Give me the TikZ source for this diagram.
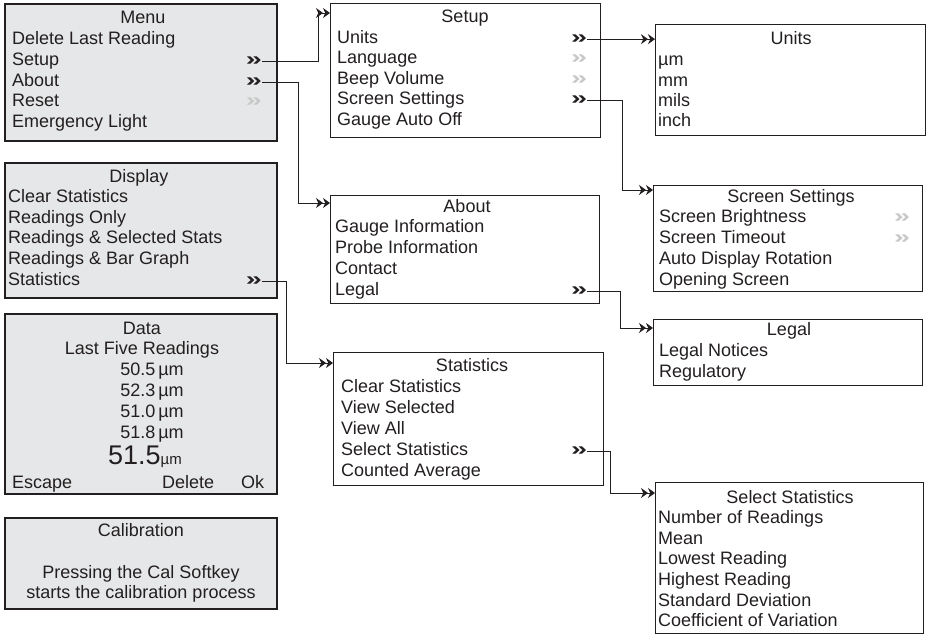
\documentclass[tikz,border=0pt]{standalone}
\usepackage{graphicx}
\usepackage{fontspec}
\setmainfont{Liberation Sans}
\usetikzlibrary{arrows.meta, calc}
\definecolor{ink}{HTML}{231F20}
\definecolor{panel}{HTML}{E6E7E8}
\definecolor{dim}{HTML}{C8C8C8}
\newcommand{\menufont}{\fontsize{18}{21}\selectfont}
\newcommand{\gofont}{\fontsize{18}{21}\selectfont\bfseries}
\newcommand{\go}{\scalebox{1.6}[1.05]{»}}
\tikzset{
  graybox/.style={
    rectangle, draw=ink, fill=panel, line width=1.8pt,
    anchor=north west, inner sep=0pt
  },
  whitebox/.style={graybox, fill=white, line width=1.1pt},
  item/.style={anchor=base west, inner sep=0pt, yshift=-6.5pt, font=\menufont, text=ink},
  title/.style={item, anchor=base},
  more/.style={title, font=\gofont},
  moredim/.style={more, text=dim},
  arrow/.style={-{Stealth[length=7pt,width=10pt]Stealth[length=7pt,width=10pt]}, line width=1pt, draw=ink},
}

\begin{document}
\begin{tikzpicture}[x=1pt, y=-1pt]
  \useasboundingbox (0,0) rectangle (928,635);

  % left column: gray screens
  \node[graybox, minimum width=272pt, minimum height=137pt] (menu) at (4,3) {};
  \node[title] (menuTitle) at (143,17) {Menu};
  \node[item] (mDelete) at (12,38) {Delete Last Reading};
  \node[item] (mSetup) at (12,59) {Setup};
  \node[item] (mAbout) at (12,80) {About};
  \node[item] (mReset) at (12,100) {Reset};
  \node[item] (mLight) at (12,121) {Emergency Light};
  \node[more] (mSetupGo) at (254,59) {\go};
  \node[more] (mAboutGo) at (254,80) {\go};
  \node[moredim] (mResetGo) at (254,100) {\go};

  \node[graybox, minimum width=272pt, minimum height=135pt] (display) at (4,162) {};
  \node[title] (displayTitle) at (139,176) {Display};
  \node[item] (dClear) at (8,196) {Clear Statistics};
  \node[item] (dOnly) at (8,217) {Readings Only};
  \node[item] (dSelected) at (8,237) {Readings \& Selected Stats};
  \node[item] (dBar) at (8,258) {Readings \& Bar Graph};
  \node[item] (dStats) at (8,279) {Statistics};
  \node[more] (dStatsGo) at (254,279) {\go};

  \node[graybox, minimum width=272pt, minimum height=180pt] (data) at (4,313) {};
  \node[title] (dataTitle) at (142,328) {Data};
  \node[title] (dLast) at (142,348) {Last Five Readings};
  \node[title] (dVal1) at (152,369) {50.5\,µm};
  \node[title] (dVal2) at (152,390) {52.3\,µm};
  \node[title] (dVal3) at (152,411) {51.0\,µm};
  \node[title] (dVal4) at (152,432) {51.8\,µm};
  \node[title, yshift=-3pt] (dNow) at (145,455) {{\fontsize{27}{30}\selectfont 51.5}{\fontsize{15}{18}\selectfont µm}};
  \node[item] (dEscape) at (12,482) {Escape};
  \node[item] (dDelete) at (162,482) {Delete};
  \node[item] (dOk) at (241,482) {Ok};

  \node[graybox, minimum width=272pt, minimum height=91pt] (calib) at (4,517) {};
  \node[title] (calibTitle) at (141,530) {Calibration};
  \node[title] (cLine1) at (141,572) {Pressing the Cal Softkey};
  \node[title] (cLine2) at (141,592) {starts the calibration process};

  % middle column
  \node[whitebox, minimum width=270pt, minimum height=134pt] (setup) at (330,3) {};
  \node[title] (setupTitle) at (465,16) {Setup};
  \node[item] (sUnits) at (337,37) {Units};
  \node[item] (sLanguage) at (337,57) {Language};
  \node[item] (sBeep) at (337,78) {Beep Volume};
  \node[item] (sScreen) at (337,98) {Screen Settings};
  \node[item] (sAutoOff) at (337,119) {Gauge Auto Off};
  \node[more] (sUnitsGo) at (579,37) {\go};
  \node[moredim] (sLanguageGo) at (579,57) {\go};
  \node[moredim] (sBeepGo) at (579,78) {\go};
  \node[more] (sScreenGo) at (579,98) {\go};

  \node[whitebox, minimum width=269pt, minimum height=108pt] (about) at (330,195) {};
  \node[title] (aboutTitle) at (467,206) {About};
  \node[item] (aGauge) at (335,226) {Gauge Information};
  \node[item] (aProbe) at (335,247) {Probe Information};
  \node[item] (aContact) at (335,268) {Contact};
  \node[item] (aLegal) at (335,289) {Legal};
  \node[more] (aLegalGo) at (579,289) {\go};

  \node[whitebox, minimum width=270pt, minimum height=133pt] (stats) at (333,352) {};
  \node[title] (statsTitle) at (472,365) {Statistics};
  \node[item] (tClear) at (341,386) {Clear Statistics};
  \node[item] (tSelected) at (341,407) {View Selected};
  \node[item] (tAll) at (341,428) {View All};
  \node[item] (tSel) at (341,449) {Select Statistics};
  \node[item] (tCounted) at (341,470) {Counted Average};
  \node[more] (tSelGo) at (579,449) {\go};

  % right column
  \node[whitebox, minimum width=270pt, minimum height=111pt] (units) at (655,24) {};
  \node[title] (unitsTitle) at (791,38) {Units};
  \node[item] (uMicron) at (658,59) {µm};
  \node[item] (uMm) at (658,80) {mm};
  \node[item] (uMils) at (658,100) {mils};
  \node[item] (uInch) at (658,120) {inch};

  \node[whitebox, minimum width=269pt, minimum height=106pt] (screen) at (653,185) {};
  \node[title] (screenTitle) at (791,196) {Screen Settings};
  \node[item] (rBright) at (659,216) {Screen Brightness};
  \node[item] (rTimeout) at (659,237) {Screen Timeout};
  \node[item] (rRotate) at (659,258) {Auto Display Rotation};
  \node[item] (rOpening) at (659,279) {Opening Screen};
  \node[moredim] (rBrightGo) at (902,216) {\go};
  \node[moredim] (rTimeoutGo) at (902,237) {\go};

  \node[whitebox, minimum width=269pt, minimum height=66pt] (legal) at (653,319) {};
  \node[title] (legalTitle) at (789,329) {Legal};
  \node[item] (lNotices) at (659,350) {Legal Notices};
  \node[item] (lRegulatory) at (659,371) {Regulatory};

  \node[whitebox, minimum width=268pt, minimum height=151pt] (selstats) at (655,482) {};
  \node[title] (selTitle) at (790,497) {Select Statistics};
  \node[item] (eNumber) at (658,517) {Number of Readings};
  \node[item] (eMean) at (658,538) {Mean};
  \node[item] (eLowest) at (658,558) {Lowest Reading};
  \node[item] (eHighest) at (658,579) {Highest Reading};
  \node[item] (eStdDev) at (658,600) {Standard Deviation};
  \node[item] (eCoeff) at (658,620) {Coefficient of Variation};

  % submenu links
  \draw[arrow] (mSetupGo.east) -| ($(setup.north west)+(-12,10)$) -- ($(setup.north west)+(0,10)$);
  \draw[arrow] (mAboutGo.east) -| ($(about.north west)+(-32,8)$) -- ($(about.north west)+(0,8)$);
  \draw[arrow] (dStatsGo.east) -| ($(stats.north west)+(-47,11)$) -- ($(stats.north west)+(0,11)$);
  \draw[arrow] (sUnitsGo.east) -- (sUnitsGo.east -| units.west);
  \draw[arrow] (sScreenGo.east) -| ($(screen.north west)+(-31,5)$) -- ($(screen.north west)+(0,5)$);
  \draw[arrow] (aLegalGo.east) -| ($(legal.north west)+(-33,9)$) -- ($(legal.north west)+(0,9)$);
  \draw[arrow] (tSelGo.east) -| ($(selstats.north west)+(-45,11)$) -- ($(selstats.north west)+(0,11)$);
\end{tikzpicture}
\end{document}
